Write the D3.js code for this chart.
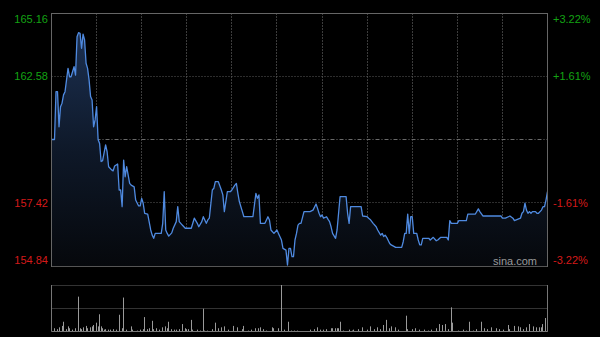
<!DOCTYPE html>
<html><head><meta charset="utf-8">
<script src="https://cdn.jsdelivr.net/npm/d3@7"></script>
<style>html,body{margin:0;padding:0;background:#000;overflow:hidden}svg{display:block}</style>
</head><body><svg id="c" width="600" height="337"></svg>
<script>
// minute index from 09:30 (HK session, 330 minutes)
const minutes = [0,2,3,4,5,6,7,8,9,11,12,13,15,16,17,18,19,20,21,22,23,24,25,26,27,28,29,30,31,32,33,34,36,37,38,40,41,42,44,45,46,47,48,49,50,52,53,55,56,58,59,60,61,62,64,66,67,68,69,71,73,74,75,76,77,78,80,81,83,84,85,87,89,93,95,97,98,100,101,103,104,105,107,108,109,111,113,114,115,117,119,120,122,123,124,125,127,128,134,136,137,138,139,142,144,145,146,148,150,151,153,154,156,157,158,159,160,161,162,163,164,165,166,168,172,174,176,177,178,179,180,181,183,184,185,186,187,189,190,191,192,196,197,198,199,206,207,210,211,212,214,216,217,219,220,221,222,223,225,226,229,233,234,235,236,237,238,239,240,241,243,244,245,246,247,251,252,254,256,257,259,263,264,265,266,270,271,276,277,282,284,285,287,299,300,302,304,305,307,308,310,312,313,314,315,316,317,318,319,320,322,323,324,326,327,328,329,330];
const prices = [160.00,160.00,161.95,161.95,160.52,161.34,161.48,161.82,161.95,162.90,162.56,162.56,162.97,162.63,164.19,164.36,164.33,163.72,164.30,164.06,163.11,162.90,162.43,161.75,161.61,160.52,160.80,161.34,160.00,159.84,159.10,159.14,159.78,159.50,158.89,158.76,158.72,158.92,159.00,157.94,157.94,157.26,159.16,158.48,158.89,158.21,158.14,158.07,157.53,157.29,157.29,157.60,157.40,156.99,156.96,156.31,156.10,155.97,156.17,156.17,156.17,156.58,157.87,156.31,156.17,156.06,156.19,156.38,156.65,157.26,156.65,156.51,156.38,156.38,156.79,156.58,156.44,156.65,156.85,156.58,156.72,156.79,157.94,158.01,158.28,158.28,157.94,157.74,157.06,157.87,157.87,157.94,158.14,158.21,157.80,157.46,157.06,156.85,156.85,157.80,157.60,157.74,156.58,156.58,156.85,156.72,156.31,156.17,156.31,156.17,155.90,155.56,155.49,154.88,155.56,155.56,155.22,155.22,155.90,156.17,156.51,156.58,156.58,157.06,157.06,157.12,157.37,157.19,156.99,156.85,156.92,156.79,156.85,156.74,156.65,156.44,156.17,155.97,156.31,156.99,157.67,157.67,156.99,156.58,157.26,157.26,156.88,156.85,156.79,156.74,156.58,156.44,156.31,156.10,156.17,156.04,156.10,156.01,155.76,155.70,155.60,155.60,155.83,156.17,156.17,156.96,156.17,156.85,156.85,156.17,156.17,155.90,155.70,155.70,155.97,155.97,155.90,156.01,155.87,155.90,156.01,156.01,155.90,156.69,156.58,156.58,156.69,156.69,156.96,156.96,157.17,157.06,156.88,156.88,156.79,156.79,156.85,156.88,156.79,156.69,156.74,156.79,156.99,157.06,157.40,157.12,156.99,157.06,156.99,157.06,157.06,156.99,156.99,157.12,157.26,157.26,157.53,157.87];

const volMinutes = [2,4,5,7,8,10,11,12,14,16,18,19,20,21,23,24,26,27,28,30,31,32,33,34,35,36,38,39,41,43,45,47,48,50,53,54,57,59,61,62,64,65,67,68,70,72,74,76,77,78,80,82,83,85,87,89,90,91,93,94,97,99,101,102,104,107,109,111,113,115,118,121,124,127,128,131,133,136,138,139,141,143,147,148,151,153,155,158,160,162,164,172,175,177,179,181,183,186,187,189,190,191,192,194,198,200,201,204,207,210,212,215,217,219,221,223,225,226,229,231,236,237,240,242,245,248,251,253,256,258,260,262,264,266,267,271,274,276,278,281,283,286,288,290,293,296,298,301,304,305,308,311,312,314,316,318,321,323,325,326,327,329,330];
const volValues = [7,5,9,12,21,5,11,7,4,7,75,7,5,9,12,7,9,11,14,19,11,37,11,7,4,5,4,4,5,4,36,7,73,4,11,4,2,4,5,31,5,7,23,5,7,4,9,11,7,21,5,4,4,5,16,7,5,5,25,4,4,2,49,2,2,5,19,7,9,11,4,12,9,5,12,2,4,7,7,9,5,2,9,7,7,100,4,21,2,2,2,4,5,9,4,4,5,7,7,7,7,7,21,2,4,2,4,5,9,4,11,5,9,5,14,25,7,11,9,4,34,5,5,7,4,4,2,4,7,16,14,16,5,52,19,2,4,2,21,2,5,21,7,5,9,7,5,4,14,5,12,11,9,5,9,16,11,9,9,9,16,29,29];

const priceTicks = [154.84, 157.42, 162.58, 165.16];
const pctLabels = ["-3.22%", "-1.61%", "+1.61%", "+3.22%"];
const prevClose = 160.00;
const gridMinutes = [30,60,90,120,150,180,210,240,270,300];

const svg = d3.select("#c");
const L = 51.5, R = 547.5, T = 13, B = 266, VT = 285, VB = 331.5;
const x = d3.scaleLinear().domain([0, 330]).range([L, R]);
const y = d3.scaleLinear().domain([154.84, 165.16]).range([B, T]);
const yv = d3.scaleLinear().domain([0, 100]).range([VB, VT]);

svg.append("rect").attr("width", 600).attr("height", 337).attr("fill", "#000");

const defs = svg.append("defs");
const g = defs.append("linearGradient").attr("id", "ag").attr("gradientUnits", "userSpaceOnUse")
  .attr("x1", 0).attr("y1", T).attr("x2", 0).attr("y2", B);
g.append("stop").attr("offset", 0).attr("stop-color", "rgb(30,52,88)");
g.append("stop").attr("offset", 0.55).attr("stop-color", "rgb(14,24,40)");
g.append("stop").attr("offset", 1).attr("stop-color", "rgb(6,8,12)");

const crisp = v => Math.floor(v) + 0.5;

// vertical grid lines (main)
svg.append("g").selectAll("line").data(gridMinutes).join("line")
  .attr("x1", d => crisp(x(d))).attr("x2", d => crisp(x(d)))
  .attr("y1", T).attr("y2", B)
  .attr("stroke", "#3c3c3c").attr("stroke-dasharray", "2,1");

// horizontal dotted grid
svg.append("g").selectAll("line").data([157.42, 162.58]).join("line")
  .attr("x1", L).attr("x2", R)
  .attr("y1", d => crisp(y(d))).attr("y2", d => crisp(y(d)))
  .attr("stroke", "#5a5a5a").attr("stroke-dasharray", "1,2");

// prev close line
svg.append("line").attr("x1", L).attr("x2", R)
  .attr("y1", crisp(y(prevClose))).attr("y2", crisp(y(prevClose)))
  .attr("stroke", "#6a6a6a").attr("stroke-dasharray", "4,2,1,2");

const pts = minutes.map((m, i) => ({m, p: prices[i]}));
const area = d3.area().x(d => x(d.m)).y0(B).y1(d => y(d.p));
const line = d3.line().x(d => x(d.m)).y(d => y(d.p));
svg.append("path").attr("d", area(pts)).attr("fill", "url(#ag)");
svg.append("path").attr("d", line(pts)).attr("fill", "none")
  .attr("stroke", "#4f8ae0").attr("stroke-width", 1.3).attr("stroke-linejoin", "round");

// main border
svg.append("line").attr("x1", L).attr("x2", R).attr("y1", T + 0.5).attr("y2", T + 0.5).attr("stroke", "#666");
svg.append("line").attr("x1", L).attr("x2", R).attr("y1", B + 0.5).attr("y2", B + 0.5).attr("stroke", "#555");
svg.append("line").attr("x1", L).attr("x2", L).attr("y1", T).attr("y2", B + 1).attr("stroke", "#666");
svg.append("line").attr("x1", R).attr("x2", R).attr("y1", T).attr("y2", B + 1).attr("stroke", "#666");

// labels
const font = "'Liberation Sans', Arial, sans-serif";
const baseOff = {154.84: -2, 157.42: 4, 162.58: 4, 165.16: 9.5};
const colorOf = v => v > prevClose ? "#13a313" : "#d41a1a";
svg.append("g").selectAll("text").data(priceTicks).join("text")
  .attr("x", 48).attr("y", d => y(d) + baseOff[d])
  .attr("text-anchor", "end").attr("font-family", font).attr("font-size", 11)
  .attr("fill", d => colorOf(d)).text(d => d.toFixed(2));
svg.append("g").selectAll("text").data(priceTicks).join("text")
  .attr("x", 553).attr("y", d => y(d) + baseOff[d])
  .attr("text-anchor", "start").attr("font-family", font).attr("font-size", 11)
  .attr("fill", d => colorOf(d)).text((d, i) => pctLabels[i]);

svg.append("text").attr("x", 537).attr("y", 264.5).attr("text-anchor", "end")
  .attr("font-family", font).attr("font-size", 11).attr("fill", "#9a9a9a").text("sina.com");

// volume panel
svg.append("line").attr("x1", L).attr("x2", R).attr("y1", VT + 0.5).attr("y2", VT + 0.5)
  .attr("stroke", "#666").attr("stroke-dasharray", "1,1");
svg.append("line").attr("x1", L).attr("x2", R).attr("y1", crisp(yv(50))).attr("y2", crisp(yv(50)))
  .attr("stroke", "#666").attr("stroke-dasharray", "1,1");
svg.append("g").selectAll("line").data(volMinutes).join("line")
  .attr("x1", d => crisp(x(d))).attr("x2", d => crisp(x(d)))
  .attr("y1", VB).attr("y2", (d, i) => yv(volValues[i]))
  .attr("stroke", "#9a9a9a").attr("stroke-width", 1);
svg.append("line").attr("x1", L).attr("x2", R).attr("y1", VB).attr("y2", VB).attr("stroke", "#777");
svg.append("line").attr("x1", L).attr("x2", L).attr("y1", VT).attr("y2", VB).attr("stroke", "#777");
svg.append("line").attr("x1", R).attr("x2", R).attr("y1", VT).attr("y2", VB).attr("stroke", "#777");
</script></body></html>
